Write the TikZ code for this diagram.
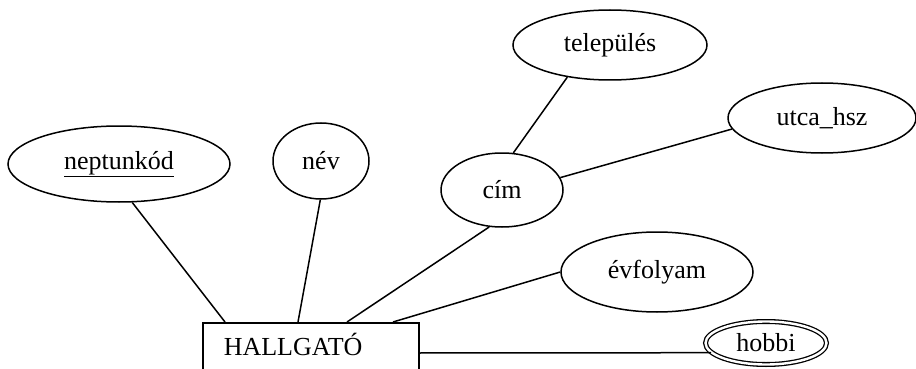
\documentclass[tikz,border=0pt]{standalone}
\usepackage{fontspec}
\setmainfont{Liberation Serif}
\usetikzlibrary{shapes.geometric}
\tikzset{
  lbl/.style={font=\fontsize{26pt}{30pt}\selectfont},
  attr/.style={ellipse, draw, line width=1.5pt, inner sep=0pt, lbl},
  conn/.style={line width=1.5pt},
}
\begin{document}
\begin{tikzpicture}[x=1pt, y=-1pt]
\useasboundingbox (0,0) rectangle (916,369);
\fill[white] (0,0) rectangle (916,369);
% entity
\node[draw, line width=1.5pt, lbl, anchor=north west, inner ysep=0pt, inner xsep=21pt,
      text width=174pt, align=left, text height=33pt, text depth=27pt] (hall) at (202,322) {HALLGATÓ};
% attributes
\node[attr, minimum width=222pt, minimum height=76pt] (np) at (119,164) {\underline{neptunkód}};
\node[attr, minimum width=96pt, minimum height=76pt] (nev) at (321,161) {név};
\node[attr, minimum width=122pt, minimum height=74pt] (cim) at (502,190) {cím};
\node[attr, minimum width=194pt, minimum height=70pt] (tel) at (610,45) {település};
\node[attr, minimum width=188pt, minimum height=70pt] (utca) at (822,118) {utca\_hsz};
\node[attr, minimum width=192pt, minimum height=80pt] (evf) at (657,272) {évfolyam};
\node[attr, double, double distance=2.4pt, line width=1.3pt, minimum width=121pt, minimum height=43pt] (hobbi) at (766,343) {hobbi};
% attachment points on the entity
\coordinate (h1) at (225,322);
\coordinate (h2) at (298,322);
\coordinate (h3) at (347,322);
\coordinate (h4) at (393,322);
\coordinate (h5) at (418,353);
% connectors
\draw[conn] (np.-71) -- (h1);
\draw[conn] (nev.-91) -- (h2);
\draw[conn] (cim.-109) -- (h3);
\draw[conn] (evf.180) -- (h4);
\draw[conn] (h5) -- (hobbi.190.8);
\draw[conn] (tel.217.6) -- (cim.73);
\draw[conn] (utca.187.4) -- (cim.12.2);
\end{tikzpicture}
\end{document}
